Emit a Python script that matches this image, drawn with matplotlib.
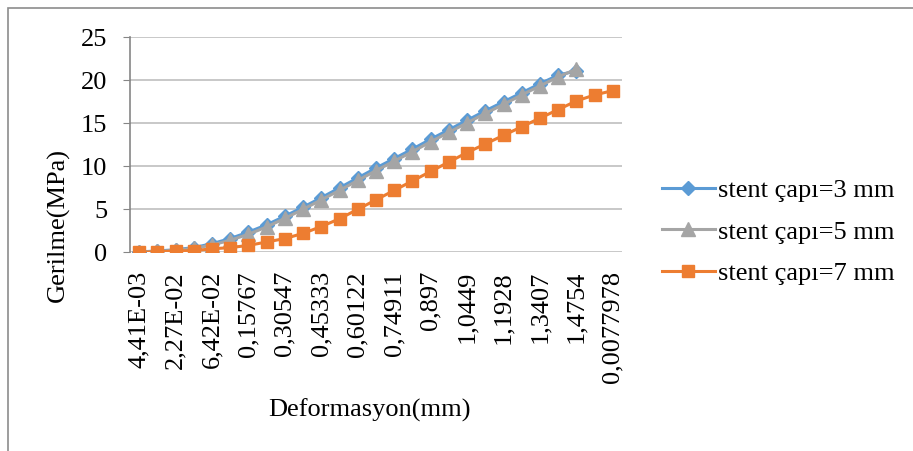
import matplotlib.pyplot as plt
from matplotlib.patches import Rectangle

plt.rcParams['font.family'] = ['Liberation Serif', 'DejaVu Serif']

# Deformasyon kategorileri (her ikinci etiket eksende gösteriliyor)
tick_labels = ["4,41E-03", "2,27E-02", "6,42E-02", "0,15767", "0,30547",
               "0,45333", "0,60122", "0,74911", "0,897", "1,0449",
               "1,1928", "1,3407", "1,4754", "0,0077978"]

# Gerilme değerleri (MPa)
stent_3mm = [0.05, 0.15, 0.3, 0.55, 1.0, 1.6, 2.35, 3.2, 4.2, 5.25, 6.35,
             7.5, 8.65, 9.8, 10.9, 12.0, 13.15, 14.25, 15.35, 16.45, 17.5,
             18.55, 19.6, 20.6, 21.1]
stent_5mm = [0.03, 0.1, 0.25, 0.45, 0.85, 1.4, 2.1, 2.95, 3.95, 5.0, 6.1,
             7.2, 8.35, 9.5, 10.6, 11.7, 12.85, 13.95, 15.05, 16.15, 17.2,
             18.3, 19.35, 20.4, 21.3]
stent_7mm = [0.0, 0.05, 0.15, 0.2, 0.4, 0.55, 0.8, 1.2, 1.6, 2.2, 3.0, 3.9,
             5.0, 6.1, 7.2, 8.3, 9.4, 10.5, 11.6, 12.6, 13.6, 14.6, 15.6,
             16.6, 17.6, 18.3, 18.8]
series_names = ["stent çapı=3 mm", "stent çapı=5 mm", "stent çapı=7 mm"]

FS = 19
fig = plt.figure(figsize=(9.13, 4.51), dpi=100)
ax = fig.add_axes([130 / 913, 1 - 252.3 / 451, 492 / 913, 215 / 451])

grid_c = '#bfbfbf'
ax.plot(range(len(stent_3mm)), stent_3mm, color='#5b9bd5', lw=2.2,
        marker='D', ms=7, label=series_names[0], zorder=3)
ax.plot(range(len(stent_5mm)), stent_5mm, color='#a5a5a5', lw=2.2,
        marker='^', ms=9.5, label=series_names[1], zorder=4)
ax.plot(range(len(stent_7mm)), stent_7mm, color='#ed7d31', lw=2.2,
        marker='s', ms=9, label=series_names[2], zorder=5)

ax.set_xlim(-0.5, len(stent_7mm) - 0.5)
ax.set_ylim(0, 25)
ax.set_yticks(range(0, 26, 5))
ax.set_xticks(range(0, len(stent_7mm), 2))
ax.set_xticklabels(tick_labels, rotation=90, fontsize=FS)
ax.tick_params(axis='y', labelsize=FS, length=5, color='#868686', pad=11.5)
ax.tick_params(axis='x', length=0, pad=13.5)
ax.grid(axis='y', color=grid_c, lw=1.2)
ax.set_axisbelow(True)
for s in ['top', 'right', 'bottom']:
    ax.spines[s].set_visible(False)
ax.spines['left'].set_color('#868686')
ax.spines['left'].set_linewidth(1.2)

ax.set_xlabel("Deformasyon(mm)", fontsize=FS, va='center')
ax.xaxis.set_label_coords((369 - 130) / 492, (252.3 - 410) / 215)
ax.set_ylabel("Gerilme(MPa)", fontsize=FS, va='center')
ax.yaxis.set_label_coords((58 - 130) / 492, (252.3 - 225) / 215)

ax.legend(loc='center left', bbox_to_anchor=((662 - 130) / 492, (252.3 - 232) / 215),
          frameon=False, fontsize=FS, handlelength=2.0, handletextpad=0.12,
          labelspacing=0.68, borderaxespad=0, borderpad=0)

# çerçeve
fig.patches.append(Rectangle((8 / 913, -0.1), 1.1, 1 - 8 / 451 + 0.1,
                             transform=fig.transFigure, fill=False,
                             edgecolor='#8c8c8c', lw=1.2))

fig.savefig("out.png", dpi=100)
